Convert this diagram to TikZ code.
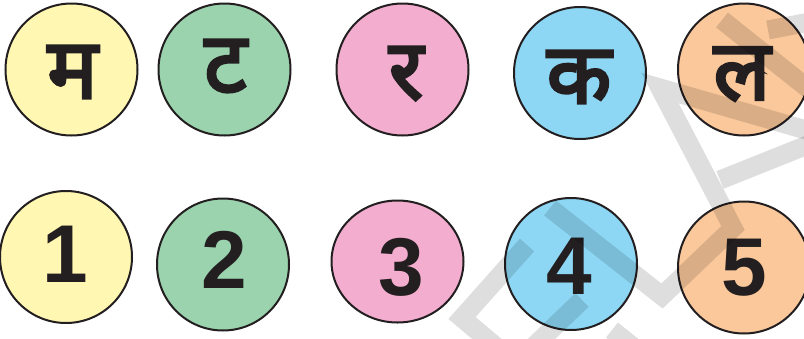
\documentclass[tikz,border=0pt]{standalone}
\usepackage{fontspec}
\usepackage{xcolor}
\usetikzlibrary{shapes.geometric}
\newfontfamily\devfont[Script=Devanagari,FakeBold=3.5]{Noto Sans}
\newfontfamily\numfont{Liberation Sans}
\definecolor{ballyellow}{HTML}{FFF7B2}
\definecolor{ballgreen}{HTML}{9AD3AE}
\definecolor{ballpink}{HTML}{F3ADCF}
\definecolor{ballblue}{HTML}{8DD7F5}
\definecolor{ballorange}{HTML}{FAC89B}
\definecolor{rim}{HTML}{231F20}

\begin{document}
\begin{tikzpicture}[x=1pt,y=-1pt,
  ball/.style={circle,draw=rim,line width=2pt,minimum size=132pt,inner sep=0pt},
  oval/.style={ellipse,draw=rim,line width=2pt,minimum width=132pt,minimum height=122pt,inner sep=0pt},
  letter/.style={inner sep=0pt,text=rim,font=\devfont\fontsize{84}{84}\selectfont},
  digit/.style={inner sep=0pt,text=rim,font=\numfont\bfseries\fontsize{82}{82}\selectfont},
  wmark/.style={line width=19pt,draw=black,draw opacity=.13,line join=miter}]
\useasboundingbox (0,0) rectangle (804,338);
\clip (0,0) rectangle (804,338);
\node[ball,fill=ballyellow] (ma) at (71.5,69.5) {};
\node[letter] (maText) at (72.5,72) {म};
\node[ball,fill=ballgreen] (ta) at (224.5,69.5) {};
\node[letter] (taText) at (225.5,66) {ट};
\node[ball,fill=ballpink] (ra) at (402.5,69.5) {};
\node[letter] (raText) at (406,73.5) {र};
\node[ball,fill=ballblue] (ka) at (580,73) {};
\node[letter] (kaText) at (579,77) {क};
\node[ball,fill=ballorange] (la) at (744,69.5) {};
\node[letter] (laText) at (742,74) {ल};
\node[ball,fill=ballyellow] (one) at (66,257) {};
\node[digit] (oneText) at (65.5,254) {1};
\node[ball,fill=ballgreen] (two) at (223,264.5) {};
\node[digit] (twoText) at (224.5,260) {2};
\node[oval,fill=ballpink] (three) at (397.5,261.5) {};
\node[digit] (threeText) at (401,267) {3};
\node[ball,fill=ballblue] (four) at (571,264) {};
\node[digit] (fourText) at (569,266.5) {4};
\node[ball,fill=ballorange] (five) at (744,267.5) {};
\node[digit] (fiveText) at (744,268) {5};
\draw[wmark] (722,20)--(820,98);
\draw[wmark] (768,30)--(820,20);
\draw[wmark] (820,134)--(660,88)--(733,228)--(662,296)--(550,208);
\draw[wmark] (720,180)--(820,140);
\draw[wmark] (527,245)--(462,318)--(500,350);
\draw[wmark] (582,300)--(530,350);
\draw[wmark] (612,330)--(632,346);
\end{tikzpicture}
\end{document}
